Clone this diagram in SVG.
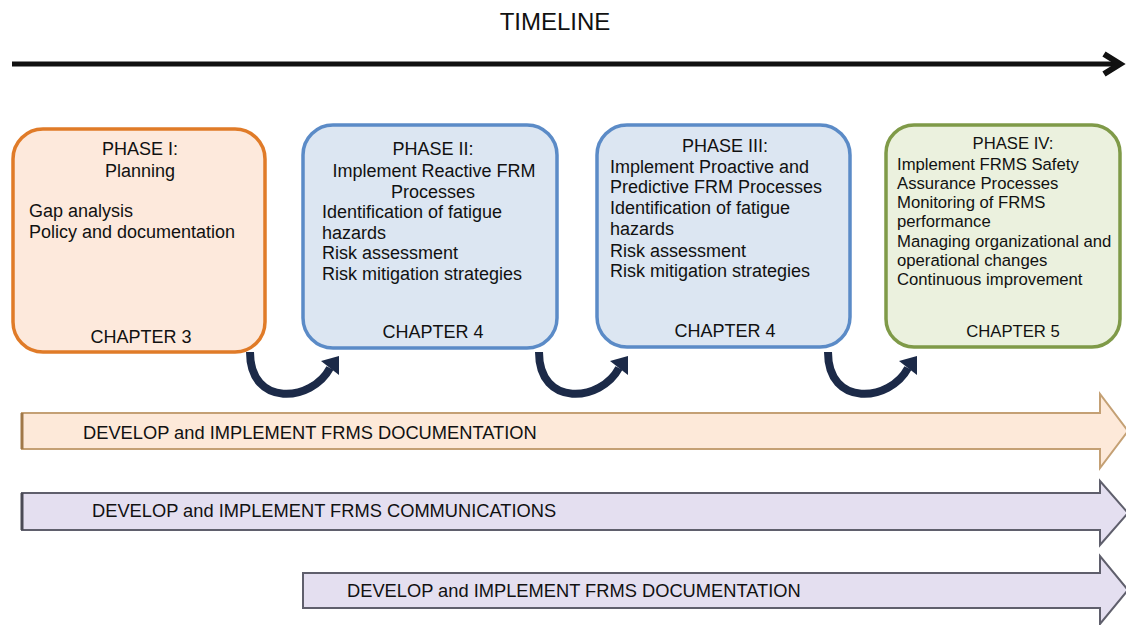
<svg xmlns="http://www.w3.org/2000/svg" width="1126" height="625" viewBox="0 0 1126 625">
<defs>
<style>
text{font-family:"Liberation Sans",Arial,sans-serif;fill:#111;}
.t{font-size:18px;}
.t4{font-size:16.7px;}
.c{text-anchor:middle;}
.bar{font-size:18.3px;}
.curve{fill:none;stroke:#1c2a48;stroke-width:8;stroke-linecap:butt;}
.head{fill:#1c2a48;}
</style>
</defs>
<rect width="1126" height="625" fill="#fff"/>
<text x="555" y="30" class="c" style="font-size:24px">TIMELINE</text>
<g id="timeline">
<line x1="12" y1="64" x2="1118" y2="64" stroke="#111" stroke-width="5"/>
<polyline points="1104,54 1120,64 1104,74" fill="none" stroke="#111" stroke-width="6" stroke-linejoin="miter"/>
</g>
<g id="phase1">
<rect x="13" y="129" width="252" height="223" rx="30" fill="#fde9dc" stroke="#e07b28" stroke-width="3.5"/>
<text x="140" y="155" class="t c">PHASE I:</text>
<text x="140" y="177" class="t c">Planning</text>
<text x="29" y="217" class="t">Gap analysis</text>
<text x="29" y="238" class="t">Policy and documentation</text>
<text x="141" y="343" class="t c">CHAPTER 3</text>
</g>
<g id="phase2">
<rect x="303" y="125" width="254" height="223" rx="30" fill="#dce6f2" stroke="#5b8bc7" stroke-width="3.5"/>
<text x="433" y="155" class="t c">PHASE II:</text>
<text x="434" y="177" class="t c">Implement Reactive FRM</text>
<text x="433" y="198" class="t c">Processes</text>
<text x="322" y="218" class="t">Identification of fatigue</text>
<text x="322" y="239" class="t">hazards</text>
<text x="322" y="259" class="t">Risk assessment</text>
<text x="322" y="280" class="t">Risk mitigation strategies</text>
<text x="433" y="338" class="t c">CHAPTER 4</text>
</g>
<g id="phase3">
<rect x="597" y="125" width="253" height="222" rx="30" fill="#dce6f2" stroke="#5b8bc7" stroke-width="3.5"/>
<text x="725" y="152" class="t c">PHASE III:</text>
<text x="610" y="173" class="t">Implement Proactive and</text>
<text x="610" y="193" class="t">Predictive FRM Processes</text>
<text x="610" y="214" class="t">Identification of fatigue</text>
<text x="610" y="235" class="t">hazards</text>
<text x="610" y="257" class="t">Risk assessment</text>
<text x="610" y="277" class="t">Risk mitigation strategies</text>
<text x="725" y="337" class="t c">CHAPTER 4</text>
</g>
<g id="phase4">
<rect x="886" y="125" width="234" height="222" rx="28" fill="#ebf1de" stroke="#7f9a48" stroke-width="3.5"/>
<text x="1013" y="149" class="t4 c">PHASE IV:</text>
<text x="897" y="170" class="t4">Implement FRMS Safety</text>
<text x="897" y="189" class="t4">Assurance Processes</text>
<text x="897" y="208" class="t4">Monitoring of FRMS</text>
<text x="897" y="227" class="t4">performance</text>
<text x="897" y="247" class="t4">Managing organizational and</text>
<text x="897" y="266" class="t4">operational changes</text>
<text x="897" y="285" class="t4">Continuous improvement</text>
<text x="1013" y="337" class="t4 c">CHAPTER 5</text>
</g>
<g id="connectors">
<g id="curve1">
<path class="curve" d="M250,352 C250,408 312,402 330,368"/>
<polygon class="head" points="339,356 339,375 321,361"/>
</g>
<g id="curve2" transform="translate(289,0)">
<path class="curve" d="M250,352 C250,408 312,402 330,368"/>
<polygon class="head" points="339,356 339,375 321,361"/>
</g>
<g id="curve3" transform="translate(578,0)">
<path class="curve" d="M250,352 C250,408 312,402 330,368"/>
<polygon class="head" points="339,356 339,375 321,361"/>
</g>
</g>
<g id="band1">
<polygon points="22,413 1100,413 1100,394 1128,431 1100,468 1100,449 22,449" fill="#fde9d9" stroke="#c4a074" stroke-width="2"/>
<line x1="22" y1="413" x2="22" y2="449" stroke="#a07848" stroke-width="3"/>
<text x="83" y="439" class="bar">DEVELOP and IMPLEMENT FRMS DOCUMENTATION</text>
</g>
<g id="band2">
<polygon points="22,493 1100,493 1100,481 1128,513 1100,545 1100,530 22,530" fill="#e4dff0" stroke="#5f5f6c" stroke-width="2"/>
<line x1="22" y1="493" x2="22" y2="530" stroke="#4a4a55" stroke-width="3"/>
<text x="92" y="517" class="bar">DEVELOP and IMPLEMENT FRMS COMMUNICATIONS</text>
</g>
<g id="band3">
<polygon points="303,573 1100,573 1100,556 1128,590 1100,624 1100,608 303,608" fill="#e4dff0" stroke="#5f5f6c" stroke-width="2"/>
<text x="347" y="597" class="bar">DEVELOP and IMPLEMENT FRMS DOCUMENTATION</text>
</g>
</svg>
